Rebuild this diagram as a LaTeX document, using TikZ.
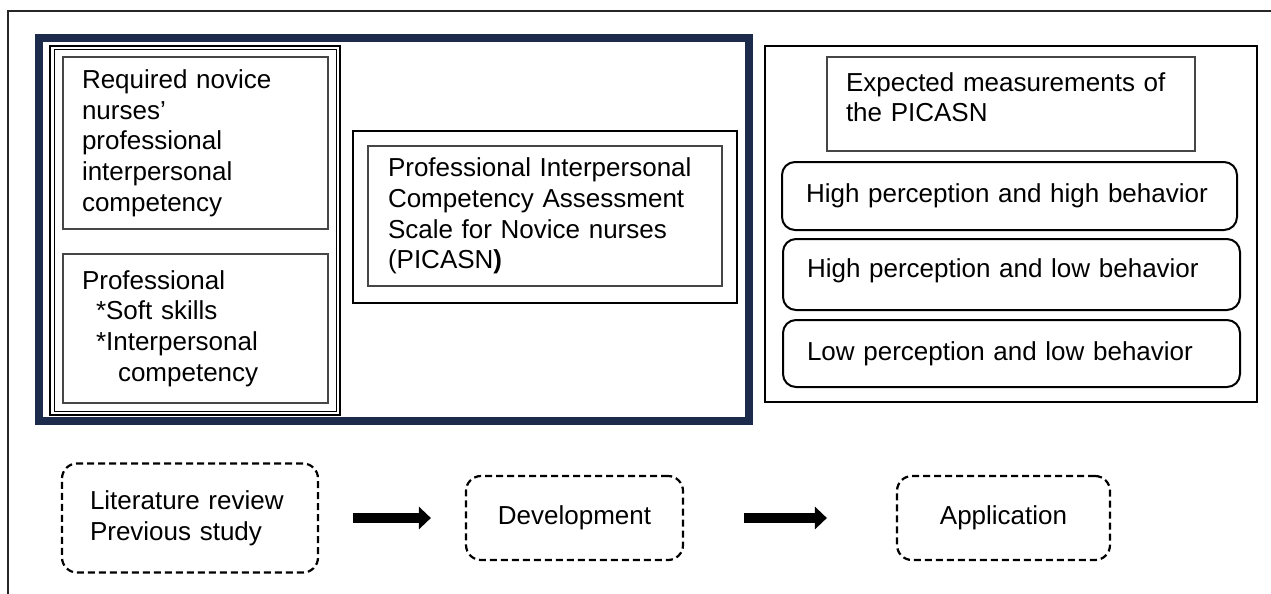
\documentclass[tikz,border=0pt]{standalone}
\usepackage{fontspec}
\setmainfont{Liberation Sans}
\usetikzlibrary{arrows.meta}
\definecolor{framenavy}{RGB}{28,43,75}
\definecolor{inkgray}{RGB}{70,70,70}
\newcommand{\boxfont}{\fontsize{26}{30.7}\selectfont\spaceskip=9pt plus 3pt}
\begin{document}
\begin{tikzpicture}[x=1pt,y=-1pt,
  textbox/.style={font=\boxfont, align=left, inner ysep=0pt, text=black},
  thinbox/.style={textbox, draw=inkgray, line width=1.2pt},
  heavybox/.style={draw=black, line width=2.2pt, inner sep=0pt},
  pillbox/.style={textbox, draw=black, line width=2pt, rounded corners=13pt, inner xsep=24pt},
  stagebox/.style={textbox, draw=black, line width=2.2pt, rounded corners=15pt,
    dash pattern=on 7pt off 4pt, align=center},
  flowarrow/.style={line width=10pt, -{Triangle[length=12pt,width=22pt]}}
]
\useasboundingbox (0,0) rectangle (1271,594);
\fill[white] (0,0) rectangle (1271,594);

% page frame (left and top edges)
\draw[line width=1.3pt, black!85] (8,594) -- (8,11) -- (1271,11);

% ---------- development block ----------
\node[draw=framenavy, line width=8pt, minimum width=710pt, minimum height=383pt, inner sep=0pt]
  (devframe) at (394,229.5) {};

\node[draw=black, line width=2pt, minimum width=290pt, minimum height=369pt, inner sep=0pt]
  (basis) at (195,230.5) {};
\node[draw=black, line width=1pt, minimum width=282pt, minimum height=361pt, inner sep=0pt]
  (basisin) at (195,230.5) {};

\node[thinbox, text width=227pt, inner xsep=19pt, minimum height=172pt]
  (required) at (195.5,143)
  {Required novice\\nurses'\\professional\\interpersonal\\competency};

\node[thinbox, text width=227pt, inner xsep=19pt, minimum height=149pt]
  (professional) at (195.5,328.5)
  {Professional\\\hspace*{14pt}*Soft skills\\\hspace*{14pt}*Interpersonal\\\hspace*{36pt}competency};

\node[heavybox, minimum width=384pt, minimum height=172pt] (scaleout) at (545,217) {};
\node[thinbox, text width=314pt, inner xsep=20pt, minimum height=140pt]
  (scale) at (545,216)
  {Professional Interpersonal\\Competency Assessment\\Scale for Novice nurses\\(PICASN\textbf{)}};

% ---------- application block ----------
\node[heavybox, minimum width=492pt, minimum height=356pt] (measure) at (1011,224) {};

\node[thinbox, text width=330pt, inner xsep=19pt, minimum height=94pt]
  (expected) at (1011,104)
  {Expected measurements of\\the PICASN\rule[-14pt]{0pt}{0pt}};

\node[pillbox, text width=407pt, minimum height=68pt] (hh) at (1009.5,196)
  {High perception and high behavior};
\node[pillbox, text width=409pt, minimum height=71pt] (hl) at (1011.5,274.5)
  {High perception and low behavior\rule[-12pt]{0pt}{0pt}};
\node[pillbox, text width=409pt, minimum height=67pt] (ll) at (1011.5,353.5)
  {Low perception and low behavior};

% ---------- process stages ----------
\node[stagebox, align=left, text width=200pt, inner xsep=28pt, minimum height=109pt]
  (lit) at (190,518)
  {Literature review\\Previous study};
\node[stagebox, minimum width=217pt, minimum height=84pt] (dev) at (574.5,518)
  {Development};
\node[stagebox, minimum width=213pt, minimum height=84pt] (app) at (1003.5,518)
  {Application};

\draw[flowarrow, shorten <=34pt, shorten >=34pt] (lit.east) -- (dev.west);
\draw[flowarrow, shorten <=60pt, shorten >=69pt] (dev.east) -- (app.west);
\end{tikzpicture}
\end{document}
